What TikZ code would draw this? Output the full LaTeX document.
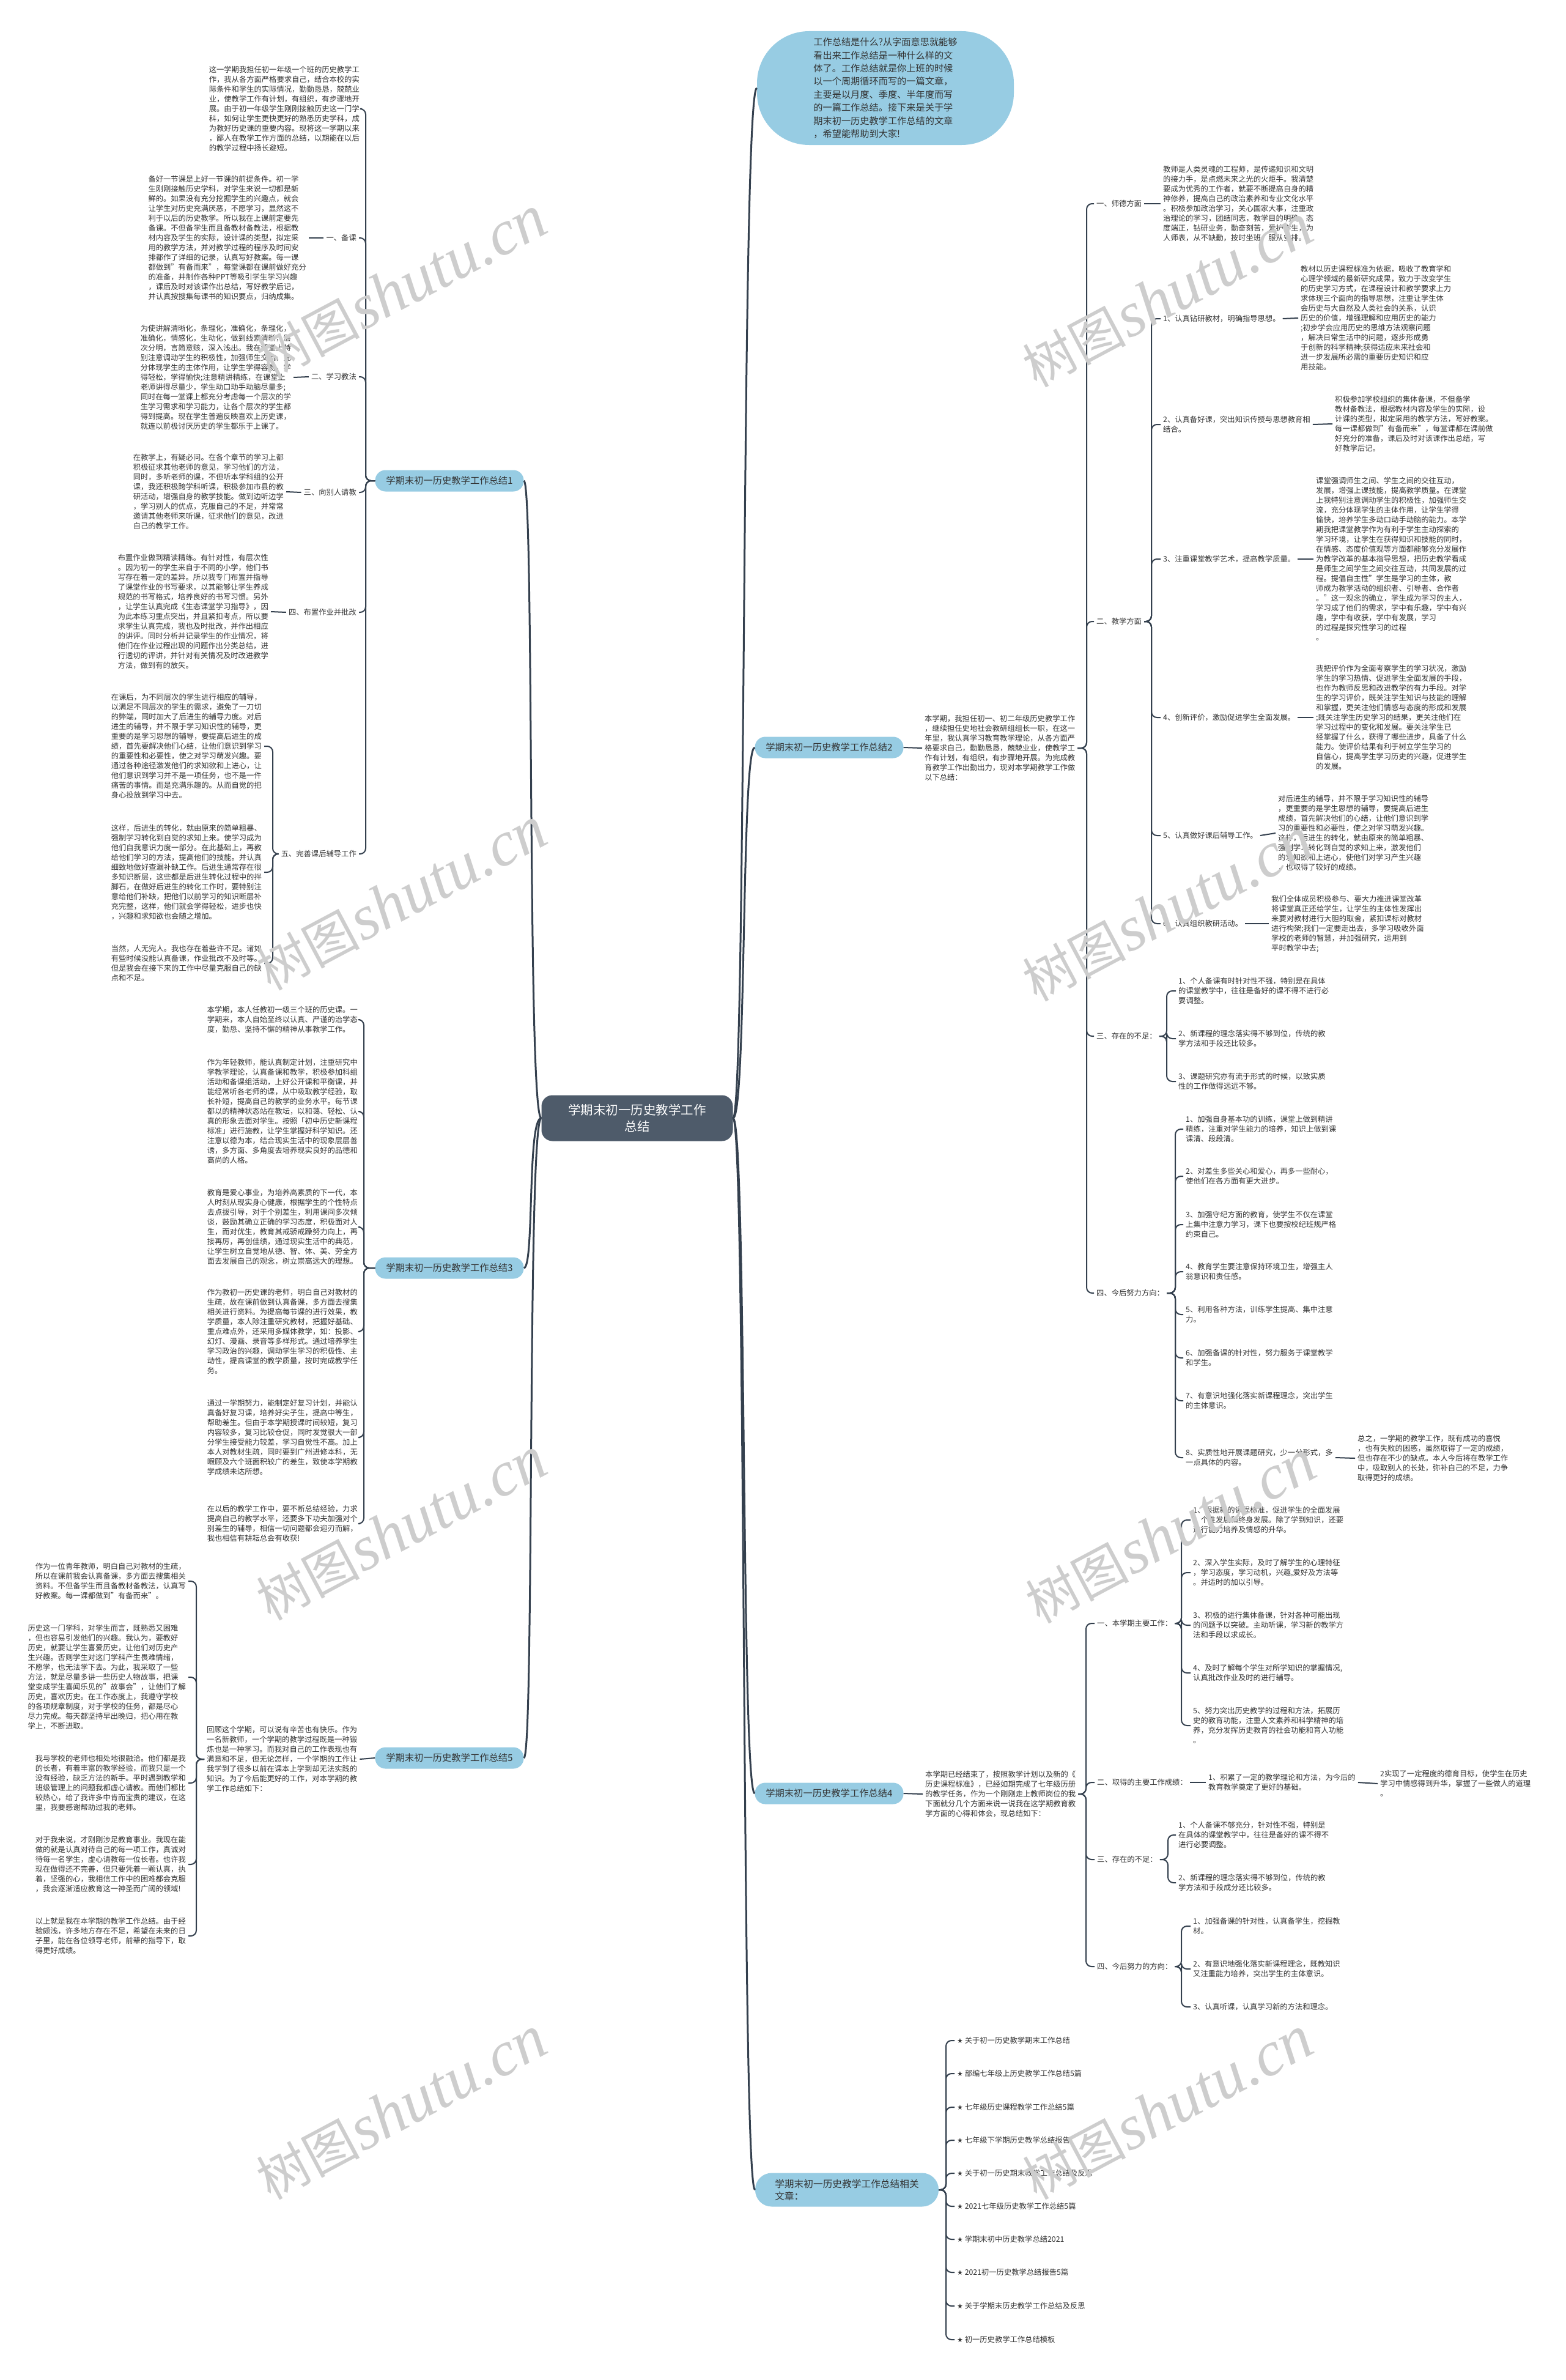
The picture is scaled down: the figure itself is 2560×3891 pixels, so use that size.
\documentclass[tikz,border=0pt]{standalone}
\usepackage{fontspec}
\setmainfont{Noto Sans CJK SC}
\newfontfamily\wmlat{Liberation Serif}
\newfontfamily\symf{DejaVu Sans}
\definecolor{nodeblue}{RGB}{151,204,227}
\definecolor{rootc}{RGB}{78,91,106}
\definecolor{linec}{RGB}{52,64,78}
\definecolor{txtc}{RGB}{51,51,51}
\definecolor{wmc}{RGB}{205,205,205}
\tikzset{
 para/.style={font=\fontsize{12.3}{16}\selectfont, align=left, inner xsep=4pt, inner ysep=1pt, text=txtc},
 br/.style={fill=nodeblue, rounded corners=17pt, minimum width=243pt, minimum height=35pt, inner sep=0pt, font=\fontsize{15.3}{18}\selectfont, text=txtc},
 conn/.style={draw=linec, line width=2pt, rounded corners=9pt},
 mainc/.style={draw=linec, line width=3pt},
 wm/.style={rotate=28, text=wmc, inner sep=0pt},
}
\begin{document}
\begin{tikzpicture}[x=1pt,y=-1pt]
\useasboundingbox (0,0) rectangle (2560,3891);
\fill[white] (0,0) rectangle (2560,3891);

% ---------- root and top bubble ----------
\node[fill=rootc, text=white, rounded corners=18pt, minimum width=313pt, minimum height=75pt, align=center, font=\fontsize{20.5}{27}\selectfont] (root) at (1042,1828) {学期末初一历史教学工作\\总结};
\node[fill=nodeblue, rounded corners=85pt, minimum width=420pt, minimum height=186pt, align=left, text=txtc, font=\fontsize{15.2}{21.4}\selectfont] (top) at (1448,144) {工作总结是什么?从字面意思就能够\\看出来工作总结是一种什么样的文\\体了。工作总结就是你上班的时候\\以一个周期循环而写的一篇文章，\\主要是以月度、季度、半年度而写\\的一篇工作总结。接下来是关于学\\期末初一历史教学工作总结的文章\\，希望能帮助到大家!};

% ---------- branch nodes ----------
\node[br] (b1) at (735,786) {学期末初一历史教学工作总结1};
\node[br] (b3) at (735,2073) {学期末初一历史教学工作总结3};
\node[br] (b5) at (735,2874) {学期末初一历史教学工作总结5};
\node[br] (b2) at (1356,1222) {学期末初一历史教学工作总结2};
\node[br] (b4) at (1356,2932) {学期末初一历史教学工作总结4};
\node[fill=nodeblue, rounded corners=27pt, minimum width=300pt, minimum height=55pt, inner sep=0pt, align=left, text=txtc, font=\fontsize{15.7}{20}\selectfont] (rel) at (1385,3580) {学期末初一历史教学工作总结相关\\文章：};

% ---------- root connectors ----------
\draw[mainc] (root.west) .. controls (862,1828) and (874,786) .. (b1.east);
\draw[mainc] (root.west) .. controls (862,1828) and (874,2073) .. (b3.east);
\draw[mainc] (root.west) .. controls (862,1828) and (874,2874) .. (b5.east);
\draw[mainc] (root.east) .. controls (1221,1828) and (1212,144) .. (top.west);
\draw[mainc] (root.east) .. controls (1221,1828) and (1212,1222) .. (b2.west);
\draw[mainc] (root.east) .. controls (1221,1828) and (1212,2932) .. (b4.west);
\draw[mainc] (root.east) .. controls (1221,1828) and (1212,3580) .. (rel.west);

% ================= Branch 1 =================
\coordinate (s1) at (598,0);
\node[para, anchor=east] (b1i) at (592,178) {这一学期我担任初一年级一个班的历史教学工\\作，我从各方面严格要求自己，结合本校的实\\际条件和学生的实际情况，勤勤恳恳，兢兢业\\业，使教学工作有计划，有组织，有步骤地开\\展。由于初一年级学生刚刚接触历史这一门学\\科，如何让学生更快更好的熟悉历史学科，成\\为教好历史课的重要内容。现将这一学期以来\\，鄙人在教学工作方面的总结，以期能在以后\\的教学过程中扬长避短。};
\node[para, anchor=east] (l11) at (587,389) {一、备课};
\node[para, anchor=east] (l12) at (587,616) {二、学习教法};
\node[para, anchor=east] (l13) at (587,805) {三、向别人请教};
\node[para, anchor=east] (l14) at (587,1001) {四、布置作业并批改};
\node[para, anchor=east] (l15) at (587,1396) {五、完善课后辅导工作};
\node[para, anchor=east] (p11) at (505,389) {备好一节课是上好一节课的前提条件。初一学\\生刚刚接触历史学科，对学生来说一切都是新\\鲜的。如果没有充分挖掘学生的兴趣点，就会\\让学生对历史充满厌恶，不愿学习，显然这不\\利于以后的历史教学。所以我在上课前定要先\\备课。不但备学生而且备教材备教法，根据教\\材内容及学生的实际，设计课的类型，拟定采\\用的教学方法，并对教学过程的程序及时间安\\排都作了详细的记录，认真写好教案。每一课\\都做到"有备而来"，每堂课都在课前做好充分\\的准备，并制作各种PPT等吸引学生学习兴趣\\，课后及时对该课作出总结，写好教学后记，\\并认真按搜集每课书的知识要点，归纳成集。};
\node[para, anchor=east] (p12) at (480,617) {为使讲解清晰化，条理化，准确化，条理化，\\准确化，情感化，生动化，做到线索清晰，层\\次分明，言简意赅，深入浅出。我在课堂上特\\别注意调动学生的积极性，加强师生交流，充\\分体现学生的主体作用，让学生学得容易，学\\得轻松，学得愉快;注意精讲精练，在课堂上\\老师讲得尽量少，学生动口动手动脑尽量多;\\同时在每一堂课上都充分考虑每一个层次的学\\生学习需求和学习能力，让各个层次的学生都\\得到提高。现在学生普遍反映喜欢上历史课，\\就连以前极讨厌历史的学生都乐于上课了。};
\node[para, anchor=east] (p13) at (468,804) {在教学上，有疑必问。在各个章节的学习上都\\积极征求其他老师的意见，学习他们的方法，\\同时，多听老师的课，不但听本学科组的公开\\课，我还积极跨学科听课，积极参加市县的教\\研活动，增强自身的教学技能。做到边听边学\\，学习别人的优点，克服自己的不足，并常常\\邀请其他老师来听课，征求他们的意见，改进\\自己的教学工作。};
\node[para, anchor=east] (p14) at (443,1000) {布置作业做到精读精练。有针对性，有层次性\\。因为初一的学生来自于不同的小学，他们书\\写存在着一定的差异。所以我专门布置并指导\\了课堂作业的书写要求，以其能够让学生养成\\规范的书写格式，培养良好的书写习惯。另外\\，让学生认真完成《生态课堂学习指导》，因\\为此本练习重点突出，并且紧扣考点，所以要\\求学生认真完成，我也及时批改，并作出相应\\的讲评。同时分析并记录学生的作业情况，将\\他们在作业过程出现的问题作出分类总结，进\\行透切的评讲，并针对有关情况及时改进教学\\方法，做到有的放矢。};
\coordinate (s15) at (446,0);
\node[para, anchor=east] (p15a) at (432,1220) {在课后，为不同层次的学生进行相应的辅导，\\以满足不同层次的学生的需求，避免了一刀切\\的弊端，同时加大了后进生的辅导力度。对后\\进生的辅导，并不限于学习知识性的辅导，更\\重要的是学习思想的辅导，要提高后进生的成\\绩，首先要解决他们心结，让他们意识到学习\\的重要性和必要性，使之对学习萌发兴趣。要\\通过各种途径激发他们的求知欲和上进心，让\\他们意识到学习并不是一项任务，也不是一件\\痛苦的事情。而是充满乐趣的。从而自觉的把\\身心投放到学习中去。};
\node[para, anchor=east] (p15b) at (432,1426) {这样，后进生的转化，就由原来的简单粗暴、\\强制学习转化到自觉的求知上来。使学习成为\\他们自我意识力度一部分。在此基础上，再教\\给他们学习的方法，提高他们的技能。并认真\\细致地做好查漏补缺工作。后进生通常存在很\\多知识断层，这些都是后进生转化过程中的拌\\脚石，在做好后进生的转化工作时，要特别注\\意给他们补缺，把他们以前学习的知识断层补\\充完整，这样，他们就会学得轻松，进步也快\\，兴趣和求知欲也会随之增加。};
\node[para, anchor=east] (p15c) at (432,1575) {当然，人无完人。我也存在着些许不足。诸如\\有些时候没能认真备课，作业批改不及时等。\\但是我会在接下来的工作中尽量克服自己的缺\\点和不足。};
\foreach \c in {b1i,l11,l12,l13,l14,l15} \draw[conn] (b1.west) -- (b1.west -| s1) |- (\c.east);
\draw[conn] (l11.west) -- (p11.east);
\draw[conn] (l12.west) -- (p12.east);
\draw[conn] (l13.west) -- (p13.east);
\draw[conn] (l14.west) -- (p14.east);
\foreach \c in {p15a,p15b,p15c} \draw[conn] (l15.west) -- (l15.west -| s15) |- (\c.east);

% ================= Branch 3 =================
\coordinate (s3) at (595,0);
\node[para, anchor=east] (p31) at (589,1667) {本学期，本人任教初一级三个班的历史课。一\\学期来，本人自始至终以认真、严谨的治学态\\度，勤恳、坚持不懈的精神从事教学工作。};
\node[para, anchor=east] (p32) at (589,1817) {作为年轻教师，能认真制定计划，注重研究中\\学教学理论，认真备课和教学，积极参加科组\\活动和备课组活动，上好公开课和平衡课，并\\能经常听各老师的课，从中吸取教学经验，取\\长补短，提高自己的教学的业务水平。每节课\\都以的精神状态站在教坛，以和蔼、轻松、认\\真的形象去面对学生。按照「初中历史新课程\\标准」进行施教，让学生掌握好科学知识。还\\注意以德为本，结合现实生活中的现象层层善\\诱，多方面、多角度去培养现实良好的品德和\\高尚的人格。};
\node[para, anchor=east] (p33) at (589,2006) {教育是爱心事业，为培养高素质的下一代，本\\人时刻从现实身心健康，根据学生的个性特点\\去点拔引导，对于个别差生，利用课间多次倾\\谈，鼓励其确立正确的学习态度，积极面对人\\生，而对优生，教育其戒骄戒躁努力向上，再\\接再厉，再创佳绩，通过现实生活中的典范，\\让学生树立自觉地从德、智、体、美、劳全方\\面去发展自己的观念，树立崇高远大的理想。};
\node[para, anchor=east] (p34) at (589,2177) {作为教初一历史课的老师，明白自己对教材的\\生疏，故在课前做到认真备课，多方面去搜集\\相关进行资料。为提高每节课的进行效果，教\\学质量，本人除注重研究教材，把握好基础、\\重点难点外，还采用多媒体教学，如：投影、\\幻灯、漫画、录音等多样形式。通过培养学生\\学习政治的兴趣，调动学生学习的积极性、主\\动性，提高课堂的教学质量，按时完成教学任\\务。};
\node[para, anchor=east] (p35) at (589,2350) {通过一学期努力，能制定好复习计划，并能认\\真备好复习课，培养好尖子生，提高中等生，\\帮助差生。但由于本学期授课时间较短，复习\\内容较多，复习比较仓促，同时发觉很大一部\\分学生接受能力较差，学习自觉性不高。加上\\本人对教材生疏，同时要到广州进修本科，无\\暇顾及六个班面积较广的差生，致使本学期教\\学成绩未达所想。};
\node[para, anchor=east] (p36) at (589,2491) {在以后的教学工作中，要不断总结经验，力求\\提高自己的教学水平，还要多下功夫加强对个\\别差生的辅导，相信一切问题都会迎刃而解，\\我也相信有耕耘总会有收获!};
\foreach \c in {p31,p32,p33,p34,p35,p36} \draw[conn] (b3.west) -- (b3.west -| s3) |- (\c.east);

% ================= Branch 5 =================
\node[para, anchor=west] (i5) at (334,2876) {回顾这个学期，可以说有辛苦也有快乐。作为\\一名新教师，一个学期的教学过程既是一种锻\\炼也是一种学习。而我对自己的工作表现也有\\满意和不足，但无论怎样，一个学期的工作让\\我学到了很多以前在课本上学到却无法实践的\\知识。为了今后能更好的工作，对本学期的教\\学工作总结如下：};
\draw[conn] (b5.west) -- (i5.east);
\coordinate (s5) at (321,0);
\node[para, anchor=east] (q1) at (308,2585) {作为一位青年教师，明白自己对教材的生疏，\\所以在课前我会认真备课，多方面去搜集相关\\资料。不但备学生而且备教材备教法，认真写\\好教案。每一课都做到"有备而来"。};
\node[para, anchor=east] (q2) at (308,2742) {历史这一门学科，对学生而言，既熟悉又困难\\，但也容易引发他们的兴趣。我认为，要教好\\历史，就要让学生喜爱历史，让他们对历史产\\生兴趣。否则学生对这门学科产生畏难情绪，\\不愿学，也无法学下去。为此，我采取了一些\\方法，就是尽量多讲一些历史人物故事，把课\\堂变成学生喜闻乐见的"故事会"，让他们了解\\历史，喜欢历史。在工作态度上，我遵守学校\\的各项规章制度，对于学校的任务，都是尽心\\尽力完成。每天都坚持早出晚归，把心用在教\\学上，不断进取。};
\node[para, anchor=east] (q3) at (308,2915) {我与学校的老师也相处地很融洽。他们都是我\\的长者，有着丰富的教学经验，而我只是一个\\没有经验，缺乏方法的新手。平时遇到教学和\\班级管理上的问题我都虚心请教。而他们都比\\较热心，给了我许多中肯而宝贵的建议，在这\\里，我要感谢帮助过我的老师。};
\node[para, anchor=east] (q4) at (308,3048) {对于我来说，才刚刚涉足教育事业。我现在能\\做的就是认真对待自己的每一项工作，真诚对\\待每一名学生，虚心请教每一位长者。也许我\\现在做得还不完善，但只要凭着一颗认真，执\\着，坚强的心，我相信工作中的困难都会克服\\，我会逐渐适应教育这一神圣而广阔的领域!};
\node[para, anchor=east] (q5) at (308,3165) {以上就是我在本学期的教学工作总结。由于经\\验颇浅，许多地方存在不足，希望在未来的日\\子里，能在各位领导老师，前辈的指导下，取\\得更好成绩。};
\foreach \c in {q1,q2,q3,q4,q5} \draw[conn] (i5.west) -- (i5.west -| s5) |- (\c.east);

% ================= Branch 2 =================
\node[para, anchor=west] (i2) at (1508,1223) {本学期，我担任初一、初二年级历史教学工作\\，继续担任史地社会教研组组长一职，在这一\\年里，我认真学习教育教学理论，从各方面严\\格要求自己，勤勤恳恳，兢兢业业，使教学工\\作有计划，有组织，有步骤地开展。为完成教\\育教学工作出勤出力，现对本学期教学工作做\\以下总结：};
\draw[conn] (b2.east) -- (i2.west);
\coordinate (s2) at (1777,0);
\node[para, anchor=west] (l21) at (1789,333) {一、师德方面};
\node[para, anchor=west] (l22) at (1789,1016) {二、教学方面};
\node[para, anchor=west] (l23) at (1789,1694) {三、存在的不足：};
\node[para, anchor=west] (l24) at (1789,2114) {四、今后努力方向：};
\foreach \c in {l21,l22,l23,l24} \draw[conn] (i2.east) -- (i2.east -| s2) |- (\c.west);
\node[para, anchor=west] (p21) at (1898,333) {教师是人类灵魂的工程师，是传递知识和文明\\的接力手，是点燃未来之光的火炬手。我清楚\\要成为优秀的工作者，就要不断提高自身的精\\神修养，提高自己的政治素养和专业文化水平\\。积极参加政治学习，关心国家大事，注重政\\治理论的学习，团结同志，教学目的明确，态\\度端正，钻研业务，勤奋刻苦，爱护学生，为\\人师表，从不缺勤，按时坐班，服从安排。};
\draw[conn] (l21.east) -- (p21.west);
\coordinate (s22) at (1883,0);
\node[para, anchor=west] (m1) at (1898,521) {1、认真钻研教材，明确指导思想。};
\node[para, anchor=west] (m2) at (1898,694) {2、认真备好课，突出知识传授与思想教育相\\结合。};
\node[para, anchor=west] (m3) at (1898,914) {3、注重课堂教学艺术，提高教学质量。};
\node[para, anchor=west] (m4) at (1898,1173) {4、创新评价，激励促进学生全面发展。};
\node[para, anchor=west] (m5) at (1898,1366) {5、认真做好课后辅导工作。};
\node[para, anchor=west] (m6) at (1898,1510) {6、认真组织教研活动。};
\foreach \c in {m1,m2,m3,m4,m5,m6} \draw[conn] (l22.east) -- (l22.east -| s22) |- (\c.west);
\node[para, anchor=west] (n1) at (2123,520) {教材以历史课程标准为依据，吸收了教育学和\\心理学领域的最新研究成果，致力于改变学生\\的历史学习方式，在课程设计和教学要求上力\\求体现三个面向的指导思想，注重让学生体\\会历史与大自然及人类社会的关系，认识\\历史的价值，增强理解和应用历史的能力\\;初步学会应用历史的思维方法观察问题\\，解决日常生活中的问题，逐步形成勇\\于创新的科学精神;获得适应未来社会和\\进一步发展所必需的重要历史知识和应\\用技能。};
\node[para, anchor=west] (n2) at (2179,693) {积极参加学校组织的集体备课，不但备学\\教材备教法，根据教材内容及学生的实际，设\\计课的类型，拟定采用的教学方法，写好教案。\\每一课都做到"有备而来"，每堂课都在课前做\\好充分的准备，课后及时对该课作出总结，写\\好教学后记。};
\node[para, anchor=west] (n3) at (2148,914) {课堂强调师生之间、学生之间的交往互动，\\发展，增强上课技能，提高教学质量。在课堂\\上我特别注意调动学生的积极性，加强师生交\\流，充分体现学生的主体作用，让学生学得\\愉快，培养学生多动口动手动脑的能力。本学\\期我把课堂教学作为有利于学生主动探索的\\学习环境，让学生在获得知识和技能的同时，\\在情感、态度价值观等方面都能够充分发展作\\为教学改革的基本指导思想，把历史教学看成\\是师生之间学生之间交往互动，共同发展的过\\程。提倡自主性"学生是学习的主体，教\\师成为教学活动的组织者、引导者、合作者\\。"这一观念的确立，学生成为学习的主人，\\学习成了他们的需求，学中有乐趣，学中有兴\\趣，学中有收获，学中有发展，学习\\的过程是探究性学习的过程\\。};
\node[para, anchor=west] (n4) at (2148,1173) {我把评价作为全面考察学生的学习状况，激励\\学生的学习热情、促进学生全面发展的手段，\\也作为教师反思和改进教学的有力手段。对学\\生的学习评价，既关注学生知识与技能的理解\\和掌握，更关注他们情感与态度的形成和发展\\;既关注学生历史学习的结果，更关注他们在\\学习过程中的变化和发展。要关注学生已\\经掌握了什么，获得了哪些进步，具备了什么\\能力。使评价结果有利于树立学生学习的\\自信心，提高学生学习历史的兴趣，促进学生\\的发展。};
\node[para, anchor=west] (n5) at (2086,1362) {对后进生的辅导，并不限于学习知识性的辅导\\，更重要的是学生思想的辅导，要提高后进生\\成绩，首先解决他们的心结，让他们意识到学\\习的重要性和必要性，使之对学习萌发兴趣。\\这样，后进生的转化，就由原来的简单粗暴、\\强制学习转化到自觉的求知上来，激发他们\\的求知欲和上进心，使他们对学习产生兴趣\\，也取得了较好的成绩。};
\node[para, anchor=west] (n6) at (2075,1510) {我们全体成员积极参与、要大力推进课堂改革\\将课堂真正还给学生，让学生的主体性发挥出\\来要对教材进行大胆的取舍，紧扣课标对教材\\进行构架;我们一定要走出去，多学习吸收外面\\学校的老师的智慧，并加强研究，运用到\\平时教学中去;};
\draw[conn] (m1.east) -- (n1.west);
\draw[conn] (m2.east) -- (n2.west);
\draw[conn] (m3.east) -- (n3.west);
\draw[conn] (m4.east) -- (n4.west);
\draw[conn] (m5.east) -- (n5.west);
\draw[conn] (m6.east) -- (n6.west);
\coordinate (s23) at (1908,0);
\node[para, anchor=west] (k1) at (1923,1620) {1、个人备课有时针对性不强，特别是在具体\\的课堂教学中，往往是备好的课不得不进行必\\要调整。};
\node[para, anchor=west] (k2) at (1923,1698) {2、新课程的理念落实得不够到位，传统的教\\学方法和手段还比较多。};
\node[para, anchor=west] (k3) at (1923,1768) {3、课题研究亦有流于形式的时候，以致实质\\性的工作做得远远不够。};
\foreach \c in {k1,k2,k3} \draw[conn] (l23.east) -- (l23.east -| s23) |- (\c.west);
\coordinate (s24) at (1922,0);
\node[para, anchor=west] (j1) at (1935,1846) {1、加强自身基本功的训练，课堂上做到精讲\\精练，注重对学生能力的培养，知识上做到课\\课清、段段清。};
\node[para, anchor=west] (j2) at (1935,1923) {2、对差生多些关心和爱心，再多一些耐心，\\使他们在各方面有更大进步。};
\node[para, anchor=west] (j3) at (1935,2002) {3、加强守纪方面的教育，使学生不仅在课堂\\上集中注意力学习，课下也要按校纪班规严格\\约束自己。};
\node[para, anchor=west] (j4) at (1935,2079) {4、教育学生要注意保持环境卫生，增强主人\\翁意识和责任感。};
\node[para, anchor=west] (j5) at (1935,2149) {5、利用各种方法，训练学生提高、集中注意\\力。};
\node[para, anchor=west] (j6) at (1935,2220) {6、加强备课的针对性，努力服务于课堂教学\\和学生。};
\node[para, anchor=west] (j7) at (1935,2290) {7、有意识地强化落实新课程理念，突出学生\\的主体意识。};
\node[para, anchor=west] (j8) at (1935,2383) {8、实质性地开展课题研究，少一分形式，多\\一点具体的内容。};
\foreach \c in {j1,j2,j3,j4,j5,j6,j7,j8} \draw[conn] (l24.east) -- (l24.east -| s24) |- (\c.west);
\node[para, anchor=west] (zz) at (2216,2384) {总之，一学期的教学工作，既有成功的喜悦\\，也有失败的困惑，虽然取得了一定的成绩，\\但也存在不少的缺点。本人今后将在教学工作\\中，吸取别人的长处，弥补自己的不足，力争\\取得更好的成绩。};
\draw[conn] (j8.east) -- (zz.west);

% ================= Branch 4 =================
\node[para, anchor=west] (i4) at (1509,2933) {本学期已经结束了，按照教学计划以及新的《\\历史课程标准》，已经如期完成了七年级历册\\的教学任务，作为一个刚刚走上教师岗位的我\\下面就分几个方面来说一说我在这学期教育教\\学方面的心得和体会，现总结如下：};
\draw[conn] (b4.east) -- (i4.west);
\coordinate (s4) at (1776,0);
\node[para, anchor=west] (g1) at (1790,2654) {一、本学期主要工作：};
\node[para, anchor=west] (g2) at (1790,2914) {二、取得的主要工作成绩：};
\node[para, anchor=west] (g3) at (1790,3040) {三、存在的不足：};
\node[para, anchor=west] (g4) at (1790,3215) {四、今后努力的方向：};
\foreach \c in {g1,g2,g3,g4} \draw[conn] (i4.east) -- (i4.east -| s4) |- (\c.west);
\coordinate (s41) at (1932,0);
\node[para, anchor=west] (e1) at (1947,2485) {1、根据新的课程标准，促进学生的全面发展\\，个性发展和终身发展。除了学到知识，还要\\进行能力培养及情感的升华。};
\node[para, anchor=west] (e2) at (1947,2571) {2、深入学生实际，及时了解学生的心理特征\\，学习态度，学习动机，兴趣,爱好及方法等\\。并适时的加以引导。};
\node[para, anchor=west] (e3) at (1947,2657) {3、积极的进行集体备课，针对各种可能出现\\的问题予以突破。主动听课，学习新的教学方\\法和手段以求成长。};
\node[para, anchor=west] (e4) at (1947,2735) {4、及时了解每个学生对所学知识的掌握情况,\\认真批改作业及时的进行辅导。};
\node[para, anchor=west] (e5) at (1947,2821) {5、努力突出历史教学的过程和方法，拓展历\\史的教育功能，注重人文素养和科学精神的培\\养，充分发挥历史教育的社会功能和育人功能\\。};
\foreach \c in {e1,e2,e3,e4,e5} \draw[conn] (g1.east) -- (g1.east -| s41) |- (\c.west);
\node[para, anchor=west] (h1) at (1972,2914) {1、积累了一定的教学理论和方法，为今后的\\教育教学奠定了更好的基础。};
\node[para, anchor=west] (h2) at (2253,2916) {2实现了一定程度的德育目标，使学生在历史\\学习中情感得到升华，掌握了一些做人的道理\\。};
\draw[conn] (g2.east) -- (h1.west);
\draw[conn] (h1.east) -- (h2.west);
\coordinate (s43) at (1910,0);
\node[para, anchor=west] (f1) at (1923,3000) {1、个人备课不够充分，针对性不强，特别是\\在具体的课堂教学中，往往是备好的课不得不\\进行必要调整。};
\node[para, anchor=west] (f2) at (1923,3078) {2、新课程的理念落实得不够到位，传统的教\\学方法和手段成分还比较多。};
\foreach \c in {f1,f2} \draw[conn] (g3.east) -- (g3.east -| s43) |- (\c.west);
\coordinate (s44) at (1932,0);
\node[para, anchor=west] (d1) at (1947,3149) {1、加强备课的针对性，认真备学生，挖掘教\\材。};
\node[para, anchor=west] (d2) at (1947,3219) {2、有意识地强化落实新课程理念，既教知识\\又注重能力培养，突出学生的主体意识。};
\node[para, anchor=west] (d3) at (1947,3281) {3、认真听课，认真学习新的方法和理念。};
\foreach \c in {d1,d2,d3} \draw[conn] (g4.east) -- (g4.east -| s44) |- (\c.west);

% ================= Related =================
\coordinate (sr) at (1547,0);
\foreach \n/\y/\t in {r1/3336/关于初一历史教学期末工作总结, r2/3390/部编七年级上历史教学工作总结5篇, r3/3445/七年级历史课程教学工作总结5篇, r4/3499/七年级下学期历史教学总结报告, r5/3553/关于初一历史期末教学工作总结及反思, r6/3607/2021七年级历史教学工作总结5篇, r7/3661/学期末初中历史教学总结2021, r8/3715/2021初一历史教学总结报告5篇, r9/3770/关于学期末历史教学工作总结及反思, r10/3825/初一历史教学工作总结模板} {
  \node[para, anchor=west] (\n) at (1561,\y) {{\symf\fontsize{11}{16}\selectfont ★} \t};
  \draw[conn] (rel.east) -- (rel.east -| sr) |- (\n.west);
}

% ---------- watermarks ----------
\foreach \x/\y in {657/471, 1910/484, 657/1470, 1910/1488, 657/2500, 1915/2505, 657/3447, 1910/3447} {
  \node[wm] at (\x,\y) {{\fontsize{84}{84}\selectfont 树图} {\wmlat\itshape\fontsize{104}{104}\selectfont shutu.cn}};
}
\end{tikzpicture}
\end{document}
